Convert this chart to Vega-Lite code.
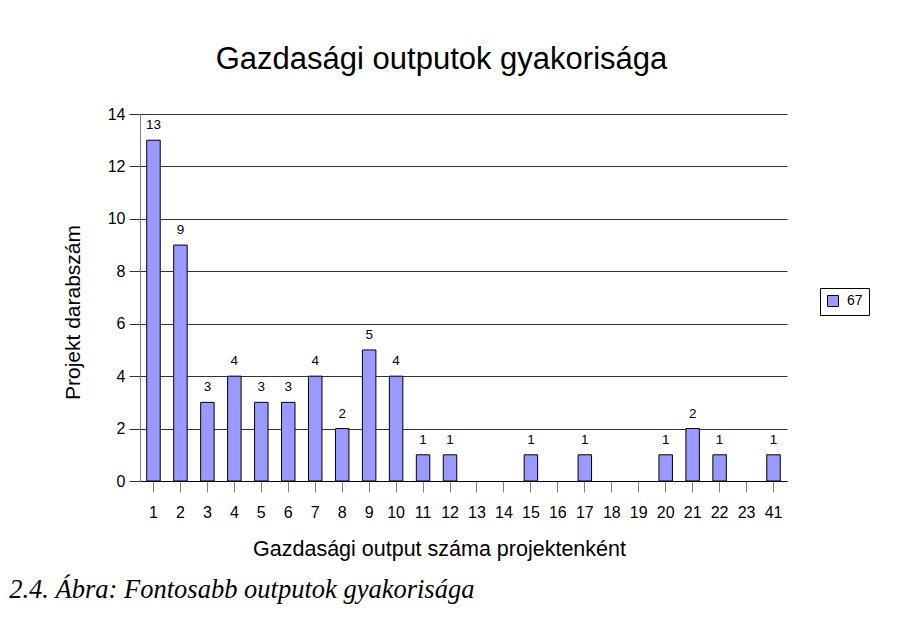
{
  "$schema": "https://vega.github.io/schema/vega-lite/v6.json",
  "padding": {"left": 9, "top": 44, "right": 5, "bottom": 5},
  "background": "white",
  "title": {
    "text": "2.4. Ábra: Fontosabb outputok gyakorisága",
    "orient": "bottom",
    "anchor": "start",
    "frame": "bounds",
    "font": "Liberation Serif",
    "fontStyle": "italic",
    "fontWeight": "normal",
    "fontSize": 26.5,
    "color": "#000",
    "offset": 17,
    "dx": -53
  },
  "config": {
    "font": "Liberation Sans",
    "view": {"stroke": null},
    "axis": {"labelColor": "#000", "titleColor": "#000", "titleFontWeight": "normal"}
  },
  "vconcat": [
    {
      "width": 647,
      "height": 367,
      "title": {
        "text": "Gazdasági outputok gyakorisága",
        "fontSize": 31,
        "fontWeight": "normal",
        "font": "Liberation Sans",
        "color": "#000",
        "anchor": "middle",
        "frame": "group",
        "dx": -22,
        "offset": 30
      },
      "data": {
        "values": [
          {"output": "1", "count": 13},
          {"output": "2", "count": 9},
          {"output": "3", "count": 3},
          {"output": "4", "count": 4},
          {"output": "5", "count": 3},
          {"output": "6", "count": 3},
          {"output": "7", "count": 4},
          {"output": "8", "count": 2},
          {"output": "9", "count": 5},
          {"output": "10", "count": 4},
          {"output": "11", "count": 1},
          {"output": "12", "count": 1},
          {"output": "13", "count": 0},
          {"output": "14", "count": 0},
          {"output": "15", "count": 1},
          {"output": "16", "count": 0},
          {"output": "17", "count": 1},
          {"output": "18", "count": 0},
          {"output": "19", "count": 0},
          {"output": "20", "count": 1},
          {"output": "21", "count": 2},
          {"output": "22", "count": 1},
          {"output": "23", "count": 0},
          {"output": "41", "count": 1}
        ]
      },
      "encoding": {
        "x": {
          "field": "output",
          "type": "ordinal",
          "sort": null,
          "scale": {
            "domain": ["1","2","3","4","5","6","7","8","9","10","11","12","13","14","15","16","17","18","19","20","21","22","23","41"],
            "paddingInner": 0.5,
            "paddingOuter": 0.25
          },
          "axis": {
            "title": "Gazdasági output száma projektenként",
            "titleFontSize": 21.5,
            "titlePadding": 18,
            "titleX": 299,
            "labelAngle": 0,
            "labelFontSize": 16,
            "labelPadding": 12,
            "tickSize": 11,
            "tickColor": "#808080",
            "domainColor": "#000",
            "grid": false
          }
        },
        "y": {
          "field": "count",
          "type": "quantitative",
          "scale": {"domain": [0, 14]},
          "axis": {
            "title": "Projekt darabszám",
            "titleFontSize": 21,
            "titlePadding": 24,
            "titleY": 198,
            "values": [0, 2, 4, 6, 8, 10, 12, 14],
            "labelFontSize": 16,
            "labelPadding": 4,
            "tickSize": 11,
            "tickColor": "#333",
            "domainColor": "#808080",
            "grid": true,
            "gridColor": "#333",
            "gridOpacity": 1
          }
        }
      },
      "layer": [
        {
          "transform": [{"filter": "datum.count > 0"}],
          "mark": {"type": "bar", "stroke": "#000", "strokeWidth": 1},
          "encoding": {
            "color": {
              "datum": "67",
              "type": "nominal",
              "scale": {"range": ["#9999ff"]},
              "legend": {
                "title": null,
                "orient": "none",
                "legendX": 680,
                "legendY": 174,
                "strokeColor": "#000",
                "fillColor": "#fff",
                "padding": 6,
                "labelFontSize": 14,
                "labelOffset": 7,
                "labelColor": "#000",
                "symbolType": "square",
                "symbolSize": 121,
                "symbolStrokeColor": "#000",
                "symbolStrokeWidth": 1,
                "symbolOpacity": 1
              }
            }
          }
        },
        {
          "transform": [{"filter": "datum.count > 0"}],
          "mark": {"type": "text", "fontSize": 13.5, "baseline": "alphabetic", "dy": -11, "color": "#000"},
          "encoding": {"text": {"field": "count", "type": "quantitative"}}
        }
      ]
    }
  ]
}
